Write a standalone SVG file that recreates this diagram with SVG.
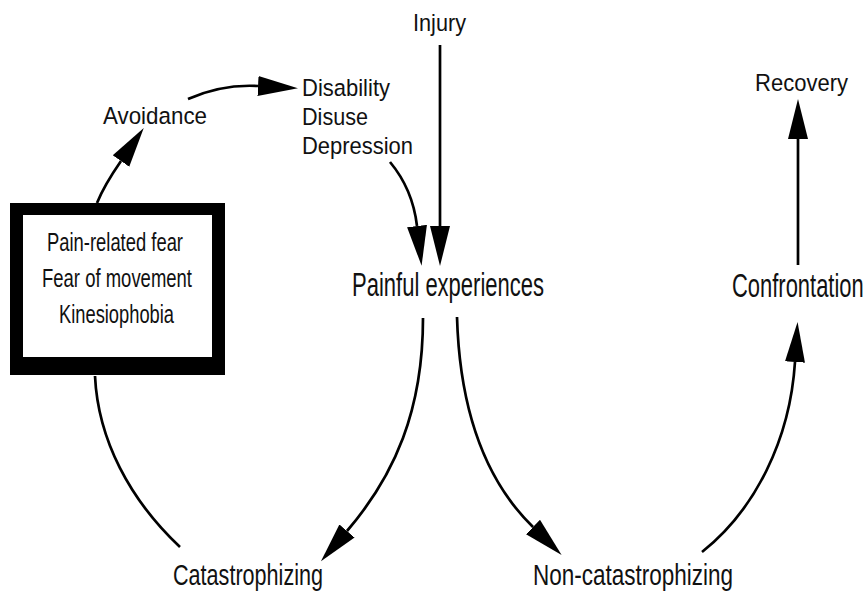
<svg xmlns="http://www.w3.org/2000/svg" width="868" height="597" viewBox="0 0 868 597">
<style>
text{font-family:"Liberation Sans",Arial,sans-serif;fill:#111;}
.s{font-size:24.5px;}
.b{font-size:25px;}
.l{font-size:33px;}
.m{font-size:29px;}
.c{fill:none;stroke:#000;stroke-width:2.7;}
</style>
<defs>
<marker id="ah" markerUnits="userSpaceOnUse" viewBox="0 -11 42 22" refX="0" refY="0" markerWidth="42" markerHeight="22" orient="auto">
<path d="M0,-10 L40,0 L0,10 Z" fill="#000"/>
</marker>
</defs>
<rect width="868" height="597" fill="#fff"/>
<g id="connectors">
<path class="c" d="M97,203 C103,188 112,174 121,161" marker-end="url(#ah)"/>
<path class="c" d="M95,376 C98,440 130,500 180,547"/>
<path class="c" d="M188,99 Q222,84 258,86" marker-end="url(#ah)"/>
<path class="c" d="M390,162 C405,180 414,200 417,226" marker-end="url(#ah)"/>
<path class="c" d="M440,45 L440,226" marker-end="url(#ah)"/>
<path class="c" d="M423,318 C423,410 395,475 347,531" marker-end="url(#ah)"/>
<path class="c" d="M457,317 C460,420 490,485 533,527" marker-end="url(#ah)"/>
<path class="c" d="M702,552 C755,510 790,440 795,362" marker-end="url(#ah)"/>
<path class="c" d="M798,265 L798,139" marker-end="url(#ah)"/>
</g>
<g id="fear">
<rect x="10" y="203" width="215" height="172" fill="#000"/>
<rect x="23" y="215" width="189" height="142" fill="#fff"/>
<text class="b" x="47" y="251" textLength="136" lengthAdjust="spacingAndGlyphs">Pain-related fear</text>
<text class="b" x="42" y="287" textLength="150" lengthAdjust="spacingAndGlyphs">Fear of movement</text>
<text class="b" x="59" y="323" textLength="115" lengthAdjust="spacingAndGlyphs">Kinesiophobia</text>
</g>
<g id="injury"><text class="s" x="413" y="31" textLength="53" lengthAdjust="spacingAndGlyphs">Injury</text></g>
<g id="avoidance"><text class="s" x="103" y="124" textLength="104" lengthAdjust="spacingAndGlyphs">Avoidance</text></g>
<g id="disability">
<text class="s" x="302" y="96" textLength="88" lengthAdjust="spacingAndGlyphs">Disability</text>
<text class="s" x="302" y="125" textLength="66" lengthAdjust="spacingAndGlyphs">Disuse</text>
<text class="s" x="302" y="154" textLength="111" lengthAdjust="spacingAndGlyphs">Depression</text>
</g>
<g id="recovery"><text class="s" x="755" y="91" textLength="93" lengthAdjust="spacingAndGlyphs">Recovery</text></g>
<g id="painful"><text class="l" x="352" y="296" textLength="192" lengthAdjust="spacingAndGlyphs">Painful experiences</text></g>
<g id="confrontation"><text class="l" transform="translate(732,297) scale(0.665,1)" x="0" y="0">Confrontation</text></g>
<g id="catastrophizing"><text class="m" x="173" y="585" textLength="150" lengthAdjust="spacingAndGlyphs">Catastrophizing</text></g>
<g id="noncatastrophizing"><text class="m" x="533" y="585" textLength="200" lengthAdjust="spacingAndGlyphs">Non-catastrophizing</text></g>
</svg>
